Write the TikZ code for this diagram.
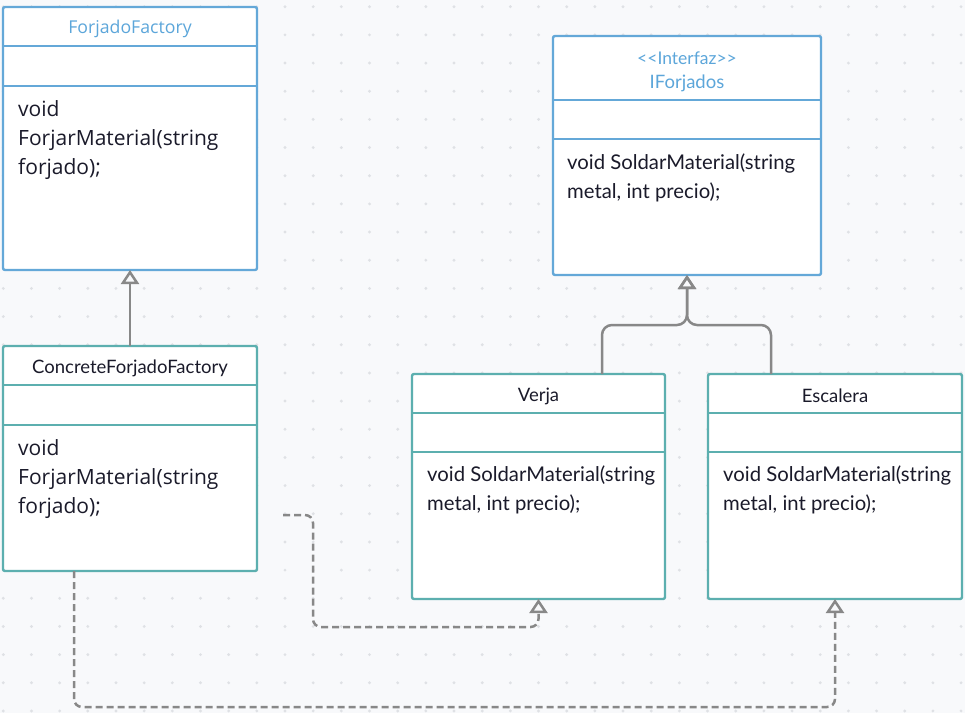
\documentclass[tikz,border=0pt]{standalone}
\usepackage{fontspec}
\setmainfont{Lato}
\newfontfamily\osans{Open Sans}
\usetikzlibrary{arrows.meta}
\definecolor{bgcol}{HTML}{F8F9FB}
\definecolor{dotcol}{HTML}{DFE1E5}
\definecolor{bluec}{HTML}{64A8D8}
\definecolor{bluet}{HTML}{5CA6DA}
\definecolor{tealc}{HTML}{5CAFAF}
\definecolor{linec}{HTML}{888888}
\definecolor{txt}{HTML}{1A1A2A}
\tikzset{
  umlbox/.style={draw, line width=2.4pt, rounded corners=2pt, fill=white, inner sep=0pt, outer sep=0pt, anchor=north west},
  bluebox/.style={umlbox, draw=bluec},
  tealbox/.style={umlbox, draw=tealc},
  sep/.style={line width=2.4pt},
  ttl/.style={inner sep=0pt, anchor=center, text=txt, font=\fontsize{18.5}{22}\selectfont},
  bttl/.style={ttl, text=bluet},
  bodyl/.style={inner sep=0pt, anchor=base west, text=txt, font=\fontsize{20.3}{24}\selectfont},
  bodyo/.style={inner sep=0pt, anchor=base west, text=txt, font=\osans\fontsize{21}{24}\selectfont},
  gen/.style={draw=linec, line width=2.5pt, -{Triangle[open, length=14pt, width=18pt]}},
  real/.style={gen, dash pattern=on 7pt off 4pt, rounded corners=8pt},
}
\begin{document}
\begin{tikzpicture}[x=1pt,y=-1pt]
\fill[bgcol] (0,0) rectangle (965,713);
\useasboundingbox (0,0) rectangle (965,713);
\foreach \i in {0,...,34}{\foreach \j in {0,...,25}{\fill[dotcol] (3.3+28.17*\i,6.7+28.17*\j) circle (1.6pt);}}

% ForjadoFactory
\node[bluebox, minimum width=254pt, minimum height=263pt] (ff) at (3,7) {};
\draw[sep, bluec] (3,46) -- (257,46);
\draw[sep, bluec] (3,86) -- (257,86);
\node[bttl, font=\osans\fontsize{17.7}{20}\selectfont] (fft) at (130,29) {ForjadoFactory};
\node[bodyo] (ff1) at (18,116) {void};
\node[bodyo] (ff2) at (18,145) {ForjarMaterial(string};
\node[bodyo] (ff3) at (18,174) {forjado);};

% ConcreteForjadoFactory
\node[tealbox, minimum width=254pt, minimum height=225pt] (cff) at (3,346) {};
\draw[sep, tealc] (3,385) -- (257,385);
\draw[sep, tealc] (3,425) -- (257,425);
\node[ttl] (cfft) at (130,368) {ConcreteForjadoFactory};
\node[bodyo] (cf1) at (18,455) {void};
\node[bodyo] (cf2) at (18,484) {ForjarMaterial(string};
\node[bodyo] (cf3) at (18,513) {forjado);};

% IForjados
\node[bluebox, minimum width=268pt, minimum height=239pt] (ifo) at (553,36) {};
\draw[sep, bluec] (553,100) -- (821,100);
\draw[sep, bluec] (553,139) -- (821,139);
\node[bttl, font=\fontsize{17.5}{20}\selectfont] (ifs) at (687,58) {{<}{<}Interfaz{>}{>}};
\node[bttl] (ift) at (687,83) {IForjados};
\node[bodyl] (if1) at (567,169) {void SoldarMaterial(string};
\node[bodyl] (if2) at (567,198) {metal, int precio);};

% Verja
\node[tealbox, minimum width=253pt, minimum height=225pt] (ver) at (412,374) {};
\draw[sep, tealc] (412,413) -- (665,413);
\draw[sep, tealc] (412,452) -- (665,452);
\node[ttl] (vert) at (538.5,396) {Verja};
\node[bodyl] (ve1) at (427,481) {void SoldarMaterial(string};
\node[bodyl] (ve2) at (427,510) {metal, int precio);};

% Escalera
\node[tealbox, minimum width=254pt, minimum height=225pt] (esc) at (708,374) {};
\draw[sep, tealc] (708,413) -- (962,413);
\draw[sep, tealc] (708,452) -- (962,452);
\node[ttl] (esct) at (835,396) {Escalera};
\node[bodyl] (es1) at (723,481) {void SoldarMaterial(string};
\node[bodyl] (es2) at (723,510) {metal, int precio);};

% connectors
\draw[gen] (cff.north) -- (ff.south);
\coordinate (vtop) at (602,374);
\coordinate (etop) at (771,374);
\draw[gen, rounded corners=10pt] (vtop) -- (602,325) -- (687,325) -- (ifo.south);
\draw[gen, rounded corners=10pt] (etop) -- (771,325) -- (687,325) -- (ifo.south);
\coordinate (dstart) at (283,515);
\draw[real] (dstart) -- (313,515) -- (313,627) -- (538.5,627) -- (ver.south);
\coordinate (cbot) at (74,571);
\draw[real] (cbot) -- (74,707) -- (835,707) -- (esc.south);
\end{tikzpicture}
\end{document}
